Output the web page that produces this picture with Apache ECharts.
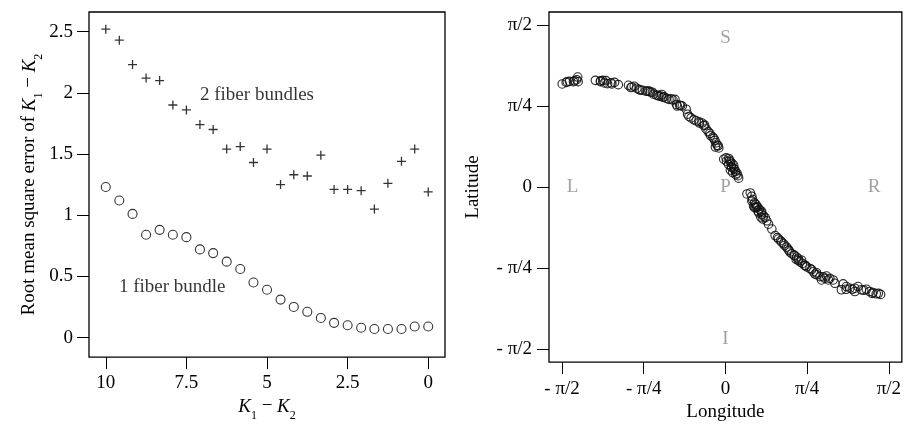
<!DOCTYPE html>
<html><head><meta charset="utf-8">
<script src="https://cdn.jsdelivr.net/npm/echarts@6/dist/echarts.min.js"></script>
<style>html,body{margin:0;padding:0;background:#fff}#c{width:904px;height:427px}</style>
</head><body><div id="c"></div>
<script>
// ---- Left panel data ----
const diffK = [10, 9.58, 9.17, 8.75, 8.33, 7.92, 7.5, 7.08, 6.67, 6.25, 5.83, 5.42, 5, 4.58, 4.17, 3.75, 3.33, 2.92, 2.5, 2.08, 1.67, 1.25, 0.83, 0.42, 0];
const rmse2Bundles = [2.52, 2.43, 2.23, 2.12, 2.10, 1.90, 1.86, 1.74, 1.70, 1.54, 1.56, 1.43, 1.54, 1.25, 1.33, 1.32, 1.49, 1.21, 1.21, 1.20, 1.05, 1.26, 1.44, 1.54, 1.19];
const rmse1Bundle = [1.23, 1.12, 1.01, 0.84, 0.88, 0.84, 0.82, 0.72, 0.69, 0.62, 0.56, 0.45, 0.39, 0.31, 0.25, 0.21, 0.16, 0.12, 0.10, 0.08, 0.07, 0.07, 0.07, 0.09, 0.09];
const leftXTicks = [10, 7.5, 5, 2.5, 0];
const leftXTickLabels = ['10', '7.5', '5', '2.5', '0'];
const leftYTicks = [0, 0.5, 1, 1.5, 2, 2.5];
const leftYTickLabels = ['0', '0.5', '1', '1.5', '2', '2.5'];
const leftNotes = ['2 fiber bundles', '1 fiber bundle'];
const leftNoteX = [5.31, 7.94];
const leftNoteY = [1.98, 0.41];

// ---- Right panel data (longitude, latitude in radians) ----
const longitude = [
 -1.569,-1.531,-1.499,-1.461,-1.429,-1.420,-1.416,-1.52,-1.45,
 -1.250,-1.202,-1.180,-1.164,-1.148,-1.133,-1.091,-1.066,-1.030,-1.20,-1.10,
 -0.932,-0.909,-0.877,-0.851,-0.829,-0.798,-0.765,-0.734,-0.702,-0.664,-0.638,-0.612,-0.590,-0.568,-0.542,-0.523,-0.504,-0.485,-0.463,-0.440,-0.415,
 -0.90,-0.82,-0.75,-0.72,-0.69,-0.65,-0.62,-0.60,-0.47,-0.43,
 -0.377,-0.364,-0.351,-0.303,-0.281,-0.255,-0.224,-0.208,-0.186,-0.166,-0.143,-0.121,-0.102,-0.090,-0.080,-0.064,-0.096,
 -0.33,-0.25,-0.20,-0.15,-0.11,-0.07,
 -0.016,0.006,0.032,0.048,0.063,0.057,0.079,0.096,0.111,0.127,0.048,0.079,
 0.01,0.03,0.06,0.09,0.10,0.12,0.07,0.04,
 0.207,0.239,0.254,0.261,0.280,0.293,0.312,0.325,0.344,0.350,
 0.254,0.271,0.293,0.312,0.350,0.366,0.383,0.398,0.414,0.446,0.478,0.510,0.541,0.567,0.589,0.612,0.637,0.663,0.685,0.701,0.717,0.733,0.759,0.781,0.813,0.845,0.861,0.876,0.909,0.924,0.957,0.972,1.004,1.036,1.052,1.132,1.163,1.196,1.244,1.275,1.307,1.355,1.387,1.419,1.450,1.492,1.115,1.244,
 0.30,0.32,0.34,0.36,0.28,0.50,0.53,0.56,0.60,0.62,0.66,0.68,0.70,0.74,0.77,0.83,0.88,0.94,0.99,1.16,1.22,1.33,1.41,1.47
];
const latitude = [
 0.999,1.014,1.024,1.021,1.040,1.066,1.021,1.02,1.03,
 1.034,1.021,1.034,1.009,1.031,1.002,0.999,1.014,0.992,1.03,1.01,
 0.986,0.964,0.976,0.957,0.945,0.938,0.929,0.929,0.919,0.890,0.881,0.897,0.875,0.859,0.849,0.856,0.843,0.849,0.785,0.792,0.785,
 0.97,0.94,0.93,0.92,0.90,0.89,0.88,0.87,0.80,0.79,
 0.754,0.706,0.684,0.652,0.642,0.633,0.620,0.595,0.563,0.537,0.499,0.484,0.451,0.429,0.404,0.379,0.388,
 0.67,0.62,0.60,0.52,0.47,0.40,
 0.270,0.283,0.277,0.245,0.229,0.198,0.181,0.150,0.134,0.086,0.165,0.213,
 0.25,0.22,0.19,0.17,0.12,0.11,0.14,0.26,
 -0.067,-0.057,-0.089,-0.121,-0.153,-0.169,-0.194,-0.217,-0.232,-0.264,
 -0.136,-0.184,-0.200,-0.232,-0.248,-0.280,-0.296,-0.327,-0.360,-0.407,-0.470,-0.503,-0.534,-0.566,-0.582,-0.614,-0.646,-0.661,-0.678,-0.694,-0.725,-0.709,-0.757,-0.773,-0.789,-0.821,-0.843,-0.830,-0.868,-0.900,-0.885,-0.862,-0.885,-0.900,-0.932,-0.938,-0.964,-0.980,-0.980,-0.964,-0.995,-0.990,-1.012,-1.021,-1.034,-1.040,-0.995,-1.012,
 -0.19,-0.25,-0.29,-0.31,-0.20,-0.49,-0.52,-0.55,-0.60,-0.63,-0.66,-0.70,-0.71,-0.74,-0.76,-0.80,-0.85,-0.87,-0.90,-0.99,-0.99,-1.00,-1.03,-1.03
];
const piTicks = [-Math.PI/2, -Math.PI/4, 0, Math.PI/4, Math.PI/2];
const piTickLabels = ['- \u03c0/2', '- \u03c0/4', '0', '\u03c0/4', '\u03c0/2'];
const dirLetters = ['S', 'L', 'P', 'R', 'I'];
const dirX = [0, -1.47, 0, 1.43, 0];
const dirY = [1.44, 0, 0, 0, -1.47];

const FONT = 'Liberation Serif';
const FS = 19;
const listFmt = (ticks, labels) => v => { let best = 0; ticks.forEach((t, i) => { if (Math.abs(t - v) < Math.abs(ticks[best] - v)) best = i; }); return labels[best]; };

const rich = {
  i: {fontFamily: FONT, fontStyle: 'italic', fontSize: FS, color: '#000'},
  s: {fontFamily: FONT, fontSize: 12, color: '#000', verticalAlign: 'bottom', padding: [0, 0, -6, 0]},
  n: {fontFamily: FONT, fontSize: FS, color: '#000'}
};

function makeAxis(opts, ticks, labels, margin) {
  return Object.assign({
    type: 'value', splitLine: {show: false},
    axisLine: {show: false, onZero: false},
    axisTick: {show: true, inside: false, length: 12, lineStyle: {color: '#000', width: 1}, customValues: ticks},
    axisLabel: {fontFamily: FONT, fontSize: FS, color: '#000', margin: margin, customValues: ticks, formatter: listFmt(ticks, labels)},
    nameTextStyle: {fontFamily: FONT, fontSize: FS, color: '#000', rich: rich},
    nameLocation: 'middle'
  }, opts);
}

const chart = echarts.init(document.getElementById('c'), null, {renderer: 'canvas'});
chart.setOption({
  animation: false,
  backgroundColor: '#fff',
  grid: [
    {left: 89, top: 12, width: 356, height: 355, show: true, borderColor: '#000', borderWidth: 1.3, backgroundColor: 'transparent'},
    {left: 549, top: 12, width: 353, height: 355, show: true, borderColor: '#000', borderWidth: 1.3, backgroundColor: 'transparent'}
  ],
  xAxis: [
    makeAxis({gridIndex: 0, inverse: true, min: -0.52, max: 10.52,
      name: '{i|K}{s|1}{n| \u2212 }{i|K}{s|2}', nameGap: 37}, leftXTicks, leftXTickLabels, 16),
    makeAxis({gridIndex: 1, min: -1.696, max: 1.696,
      name: 'Longitude', nameGap: 40}, piTicks, piTickLabels, 17)
  ],
  yAxis: [
    makeAxis({gridIndex: 0, min: -0.16, max: 2.66,
      name: '{n|Root mean square error of }{i|K}{s|1}{n| \u2212 }{i|K}{s|2}', nameGap: 50}, leftYTicks, leftYTickLabels, 16),
    makeAxis({gridIndex: 1, min: -1.696, max: 1.696,
      name: 'Latitude', nameGap: 66}, piTicks, piTickLabels, 17)
  ],
  series: [
    {
      type: 'scatter', xAxisIndex: 0, yAxisIndex: 0,
      data: diffK.map((x, i) => [x, rmse2Bundles[i]]),
      symbol: 'path://M0,5L10,5M5,0L5,10', symbolSize: 9,
      itemStyle: {color: 'transparent', borderColor: '#000', borderWidth: 1.3}
    },
    {
      type: 'scatter', xAxisIndex: 0, yAxisIndex: 0,
      data: diffK.map((x, i) => [x, rmse1Bundle[i]]),
      symbol: 'circle', symbolSize: 9,
      itemStyle: {color: 'transparent', borderColor: '#000', borderWidth: 1.1}
    },
    {
      type: 'scatter', xAxisIndex: 0, yAxisIndex: 0, symbolSize: 0, silent: true,
      data: leftNotes.map((t, i) => ({name: t, value: [leftNoteX[i], leftNoteY[i]]})),
      label: {show: true, position: 'inside', formatter: p => p.name, fontFamily: FONT, fontSize: FS, color: '#000'}
    },
    {
      type: 'scatter', xAxisIndex: 1, yAxisIndex: 1,
      data: longitude.map((x, i) => [x, latitude[i]]),
      symbol: 'circle', symbolSize: 8.5,
      itemStyle: {color: 'transparent', borderColor: '#111', borderWidth: 1.1, opacity: 0.9}
    },
    {
      type: 'scatter', xAxisIndex: 1, yAxisIndex: 1, symbolSize: 0, silent: true,
      data: dirLetters.map((t, i) => ({name: t, value: [dirX[i], dirY[i]]})),
      label: {show: true, position: 'inside', formatter: p => p.name, fontFamily: FONT, fontSize: FS, color: '#8a8a8a'}
    }
  ]
});
</script>
</body></html>
